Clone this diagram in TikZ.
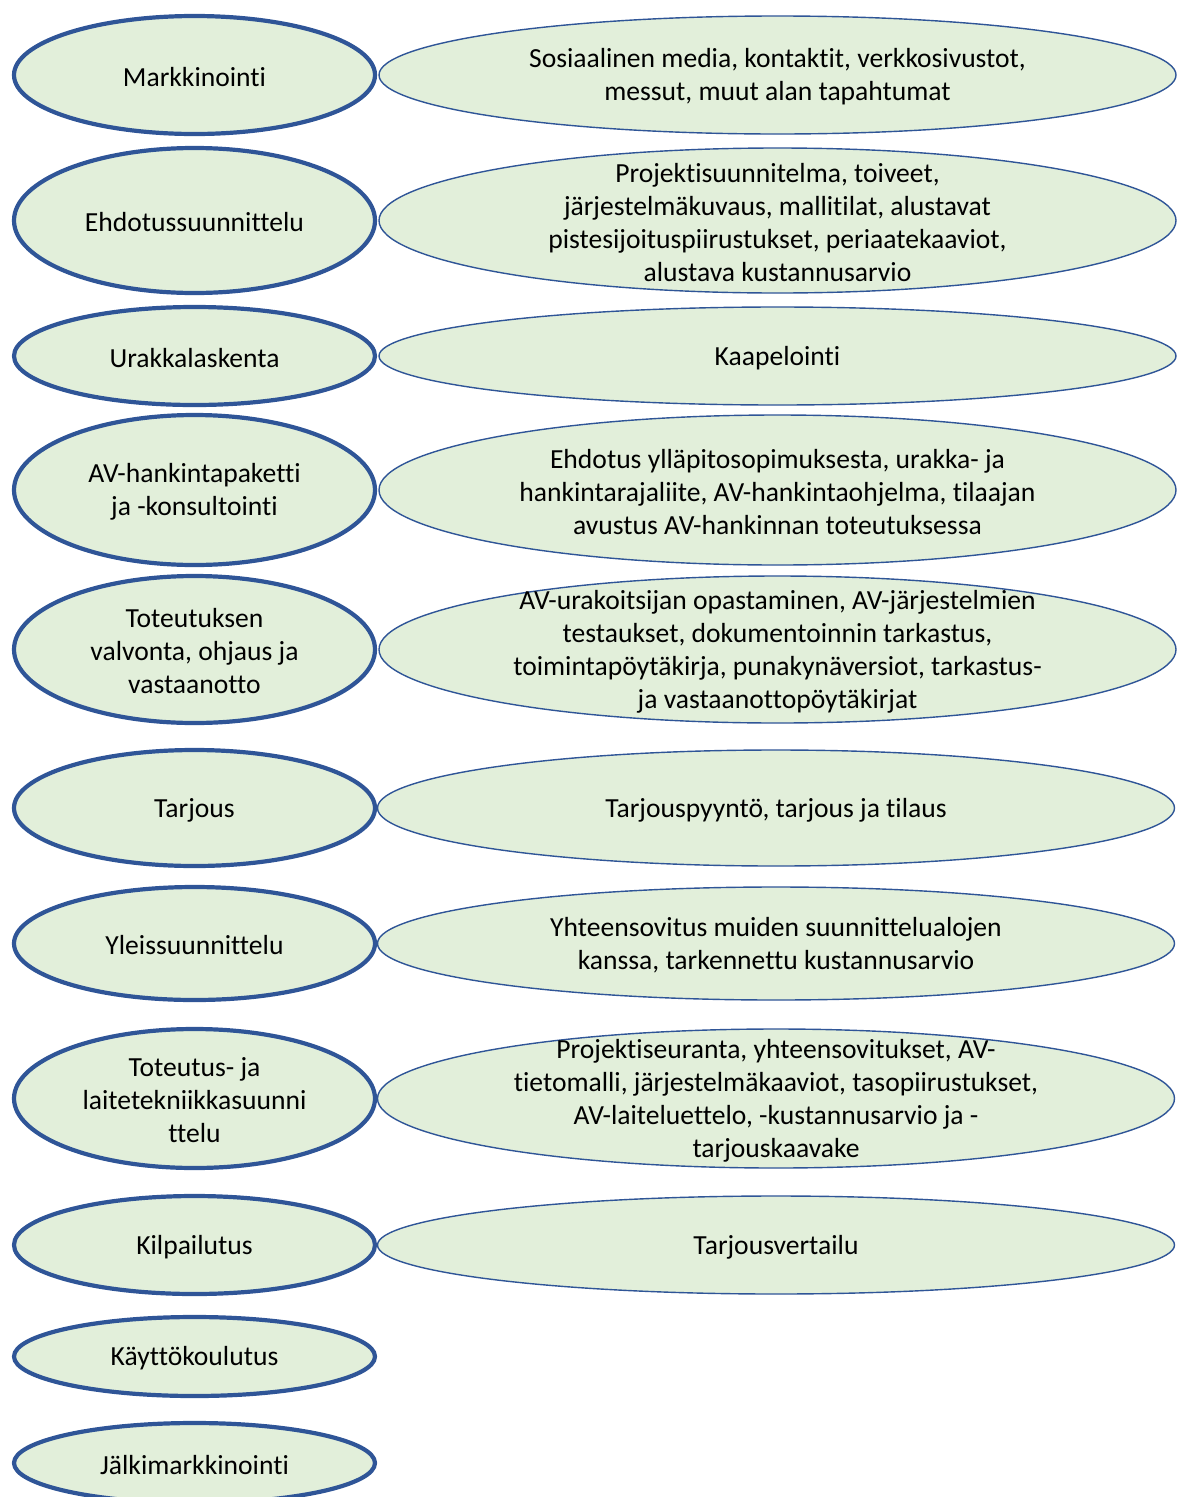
\documentclass[tikz,border=0pt]{standalone}
\usepackage{fontspec}
\setmainfont[Ligatures={NoCommon}]{Carlito}
\usetikzlibrary{shapes.geometric}
\definecolor{stagefill}{HTML}{E2EFDA}
\definecolor{stageline}{HTML}{2F5597}
\tikzset{
  stage/.style={ellipse, draw=stageline, fill=stagefill, line width=4.2pt,
    minimum width=361pt, inner sep=0pt, minimum height=#1},
  detail/.style={ellipse, draw=stageline, fill=stagefill, line width=1.4pt,
    minimum width=797pt, inner sep=0pt, minimum height=#1},
  txt/.style={align=center, font=\fontsize{27.6}{33}\selectfont, inner sep=0pt,
    text=black, yshift=-2pt}
}
\begin{document}
\begin{tikzpicture}[x=1pt,y=-1pt]
\useasboundingbox (0,0) rectangle (1177,1497);
\clip (0,0) rectangle (1177,1497);

% detail ellipses (drawn first, so the stage outlines lie on top)
\node[detail=118pt] (d1) at (777.5,75) {};
\node[detail=145pt] (d2) at (777.5,220.5) {};
\node[detail=98pt]  (d3) at (777.5,356) {};
\node[detail=150pt] (d4) at (777.5,490) {};
\node[detail=147pt] (d5) at (777.5,649.5) {};
\node[detail=116pt] (d6) at (776,808) {};
\node[detail=113pt] (d7) at (776,943.5) {};
\node[detail=139pt] (d8) at (776,1098.5) {};
\node[detail=98pt]  (d9) at (776,1245) {};

% stage ellipses
\node[stage=118pt] (s1)  at (194.5,75) {};
\node[stage=145pt] (s2)  at (194.5,220.5) {};
\node[stage=98pt]  (s3)  at (194.5,356) {};
\node[stage=150pt] (s4)  at (194.5,490) {};
\node[stage=147pt] (s5)  at (194.5,649.5) {};
\node[stage=116pt] (s6)  at (194.5,808) {};
\node[stage=113pt] (s7)  at (194.5,943.5) {};
\node[stage=139pt] (s8)  at (194.5,1098.5) {};
\node[stage=98pt]  (s9)  at (194.5,1245) {};
\node[stage=79pt]  (s10) at (194.5,1356.5) {};
\node[stage=80pt]  (s11) at (194.5,1463) {};

% stage texts
\node[txt] (t1)  at (s1)  {Markkinointi};
\node[txt] (t2)  at (s2)  {Ehdotussuunnittelu};
\node[txt] (t3)  at (s3)  {Urakkalaskenta};
\node[txt] (t4)  at (s4)  {AV-hankintapaketti\\ja -konsultointi};
\node[txt] (t5)  at (s5)  {Toteutuksen\\valvonta, ohjaus ja\\vastaanotto};
\node[txt] (t6)  at (s6)  {Tarjous};
\node[txt] (t7)  at (s7)  {Yleissuunnittelu};
\node[txt] (t8)  at (s8)  {Toteutus- ja\\laitetekniikkasuunni\\ttelu};
\node[txt] (t9)  at (s9)  {Kilpailutus};
\node[txt] (t10) at (s10) {Käyttökoulutus};
\node[txt] (t11) at (s11) {Jälkimarkkinointi};

% detail texts
\node[txt] (u1) at (d1) {Sosiaalinen media, kontaktit, verkkosivustot,\\messut, muut alan tapahtumat};
\node[txt] (u2) at (d2) {Projektisuunnitelma, toiveet,\\järjestelmäkuvaus, mallitilat, alustavat\\pistesijoituspiirustukset, periaatekaaviot,\\alustava kustannusarvio};
\node[txt] (u3) at (d3) {Kaapelointi};
\node[txt] (u4) at (d4) {Ehdotus ylläpitosopimuksesta, urakka- ja\\hankintarajaliite, AV-hankintaohjelma, tilaajan\\avustus AV-hankinnan toteutuksessa};
\node[txt] (u5) at (d5) {AV-urakoitsijan opastaminen, AV-järjestelmien\\testaukset, dokumentoinnin tarkastus,\\toimintapöytäkirja, punakynäversiot, tarkastus-\\ja vastaanottopöytäkirjat};
\node[txt] (u6) at (d6) {Tarjouspyyntö, tarjous ja tilaus};
\node[txt] (u7) at (d7) {Yhteensovitus muiden suunnittelualojen\\kanssa, tarkennettu kustannusarvio};
\node[txt] (u8) at (d8) {Projektiseuranta, yhteensovitukset, AV-\\tietomalli, järjestelmäkaaviot, tasopiirustukset,\\AV-laiteluettelo, -kustannusarvio ja -\\tarjouskaavake};
\node[txt] (u9) at (d9) {Tarjousvertailu};
\end{tikzpicture}
\end{document}
